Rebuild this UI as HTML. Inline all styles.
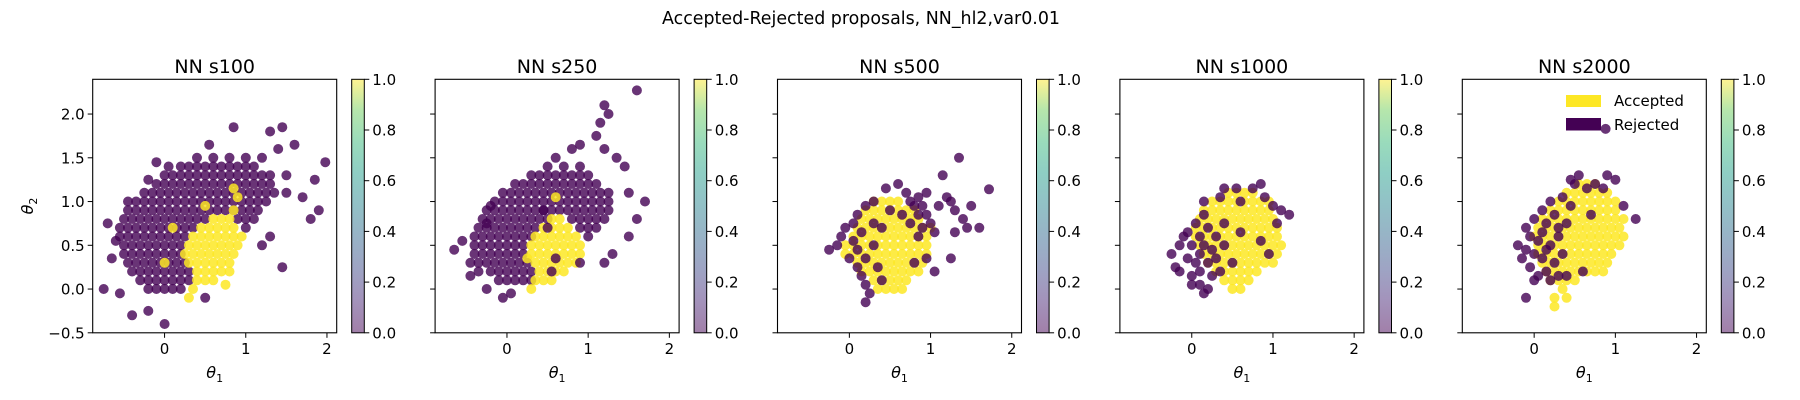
<!DOCTYPE html>
<html><head><meta charset="utf-8"><title>Accepted-Rejected proposals</title>
<style>
html,body{margin:0;padding:0;background:#fff;}
svg{display:block;font-family:"DejaVu Sans","Liberation Sans",sans-serif;}
</style></head>
<body>
<svg id="fig" width="1800" height="400" viewBox="0 0 1800 400" xmlns="http://www.w3.org/2000/svg">
<defs>
<linearGradient id="viridis" x1="0" y1="1" x2="0" y2="0">
<stop offset="0" stop-color="#440154"/><stop offset="0.13" stop-color="#482878"/><stop offset="0.25" stop-color="#3e4989"/><stop offset="0.38" stop-color="#31688e"/><stop offset="0.5" stop-color="#26828e"/><stop offset="0.63" stop-color="#1f9e89"/><stop offset="0.75" stop-color="#35b779"/><stop offset="0.88" stop-color="#6ece58"/><stop offset="1" stop-color="#fde725"/>
</linearGradient>
</defs>
<text x="861" y="24" font-size="18" text-anchor="middle" textLength="398" lengthAdjust="spacingAndGlyphs">Accepted-Rejected proposals, NN_hl2,var0.01</text>
<g id="panels"></g>
</svg>
<script>
// ---- data ----
const panelTitles = ["NN s100","NN s250","NN s500","NN s1000","NN s2000"];
const xTicks = [0,1,2];
const yTicks = [-0.5,0,0.5,1.0,1.5,2.0];
const yTickLabels = ["\u22120.5","0.0","0.5","1.0","1.5","2.0"];
const cbTicks = [0,0.2,0.4,0.6,0.8,1.0];
const cbTickLabels = ["0.0","0.2","0.4","0.6","0.8","1.0"];

// rows: [y, [x...]]
const p1RejRows = [
[1.5,[0.4,0.6,0.8,1.0,1.2]],
[1.4,[0.2,0.3,0.4,0.5,0.6,0.7,0.8,0.9,1.0,1.1]],
[1.3,[0.0,0.1,0.2,0.3,0.4,0.5,0.6,0.7,0.8,0.9,1.0,1.1,1.2,1.3]],
[1.2,[-0.1,0,0.1,0.2,0.3,0.4,0.5,0.6,0.7,0.8,0.9,1.0,1.1,1.2,1.3]],
[1.1,[-0.25,-0.15,-0.05,0.05,0.15,0.25,0.35,0.45,0.55,0.65,0.75,0.85,0.95,1.05,1.15,1.25,1.35]],
[1.0,[-0.35,-0.25,-0.15,-0.05,0.05,0.15,0.25,0.35,0.45,0.55,0.65,0.75,0.85,0.95,1.05,1.15,1.25]],
[0.9,[-0.45,-0.35,-0.25,-0.15,-0.05,0.05,0.15,0.25,0.35,0.45,0.55,0.65,0.75,0.85,0.95,1.05,1.15]],
[0.8,[-0.5,-0.4,-0.3,-0.2,-0.1,0,0.1,0.2,0.3,0.4,0.5,0.9,1.0,1.1]],
[0.7,[-0.55,-0.45,-0.35,-0.25,-0.15,-0.05,0.05,0.15,0.25,0.35,1.0]],
[0.6,[-0.55,-0.45,-0.35,-0.25,-0.15,-0.05,0.05,0.15,0.25]],
[0.5,[-0.5,-0.4,-0.3,-0.2,-0.1,0,0.1,0.2]],
[0.4,[-0.5,-0.4,-0.3,-0.2,-0.1,0,0.1,0.2]],
[0.3,[-0.45,-0.35,-0.25,-0.15,-0.05,0.05,0.15,0.25]],
[0.2,[-0.4,-0.3,-0.2,-0.1,0,0.1,0.2,0.3]],
[0.1,[-0.3,-0.2,-0.1,0,0.1,0.2,0.3]],
[0.0,[-0.2,-0.1,0,0.1,0.2]]
];
const p1RejPts = [[-0.75,0.0],[-0.7,0.75],[-0.65,0.35],[-0.6,0.55],[-0.55,-0.05],[-0.4,-0.3],[-0.2,-0.25],[0,-0.4],[0.5,-0.1],[1.45,0.25],[1.8,0.8],[1.9,0.9],[1.98,1.45],[1.85,1.25],[1.7,1.05],[1.5,1.1],[1.45,1.85],[1.3,1.8],[0.85,1.85],[1.6,1.65],[1.4,1.6],[1.5,1.3],[1.2,0.5],[1.3,0.6],[-0.1,1.45],[0.05,1.4],[0.55,1.65],[-0.45,1.0],[-0.2,1.25]];
const p1AccRows = [
[0.9,[0.85]],
[0.8,[0.6,0.7,0.8]],
[0.7,[0.45,0.55,0.65,0.75,0.85]],
[0.6,[0.35,0.45,0.55,0.65,0.75,0.85,0.95]],
[0.5,[0.3,0.4,0.5,0.6,0.7,0.8,0.9]],
[0.4,[0.25,0.35,0.45,0.55,0.65,0.75,0.85]],
[0.3,[0.3,0.4,0.5,0.6,0.7,0.8]],
[0.2,[0.4,0.5,0.6,0.7,0.8]],
[0.1,[0.4,0.5,0.6]]
];
const p1AccPts = [[0.35,0.0],[0.3,-0.1],[0.75,0.05],[0.9,1.05],[0.85,1.15],[0.5,0.95],[0.1,0.7],[0,0.3]];

const p2RejRows = [
[1.4,[0.5,0.7,0.9]],
[1.3,[0.3,0.4,0.5,0.6,0.7,0.8,0.9,1.0]],
[1.2,[0.1,0.2,0.3,0.4,0.5,0.6,0.7,0.8,0.9,1.0,1.1]],
[1.1,[-0.05,0.05,0.15,0.25,0.35,0.45,0.55,0.65,0.75,0.85,0.95,1.05,1.15,1.25]],
[1.0,[-0.15,-0.05,0.05,0.15,0.25,0.35,0.45,0.55,0.65,0.75,0.85,0.95,1.05,1.15,1.25]],
[0.9,[-0.25,-0.15,-0.05,0.05,0.15,0.25,0.35,0.45,0.55,0.65,0.75,0.85,0.95,1.05,1.15,1.25]],
[0.8,[-0.3,-0.2,-0.1,0,0.1,0.2,0.3,0.4,0.5,0.8,0.9,1.0,1.1,1.2]],
[0.7,[-0.35,-0.25,-0.15,-0.05,0.05,0.15,0.25,0.35,0.9,1.0,1.1]],
[0.6,[-0.4,-0.3,-0.2,-0.1,0,0.1,0.2,0.3,1.0]],
[0.5,[-0.4,-0.3,-0.2,-0.1,0,0.1,0.2]],
[0.4,[-0.4,-0.3,-0.2,-0.1,0,0.1,0.2]],
[0.3,[-0.35,-0.25,-0.15,-0.05,0.05,0.15,0.25]],
[0.2,[-0.2,-0.1,0,0.1,0.2,0.3]],
[0.1,[-0.1,0,0.1,0.2,0.3]]
];
const p2RejPts = [[-0.65,0.45],[-0.55,0.55],[-0.45,0.3],[-0.45,0.15],[-0.35,0.2],[-0.25,0.0],[-0.05,-0.1],[0.05,-0.05],[-0.2,0.95],[-0.25,0.75],[1.2,0.3],[1.3,0.4],[1.5,0.6],[1.6,0.8],[1.7,1.0],[1.5,1.1],[1.45,1.4],[1.35,1.5],[1.2,1.6],[1.1,1.75],[1.15,1.9],[1.25,2.0],[1.2,2.1],[1.6,2.27],[0.8,1.6],[0.9,1.65],[0.6,1.5]];
const p2AccRows = [
[0.8,[0.55,0.65]],
[0.7,[0.45,0.55,0.65,0.75]],
[0.6,[0.35,0.45,0.55,0.65,0.75,0.85]],
[0.5,[0.3,0.4,0.5,0.6,0.7,0.8,0.9]],
[0.4,[0.3,0.4,0.5,0.6,0.7,0.8,0.9]],
[0.3,[0.35,0.45,0.55,0.65,0.75,0.85]],
[0.2,[0.4,0.5,0.6,0.7]],
[0.1,[0.35,0.45,0.55]],
[0.0,[0.3]]
];
const p2AccPts = [[0.6,1.05],[0.25,0.35]];
const p2RejTopPts = [[0.55,0.2],[0.6,0.35],[0.9,0.3],[0.45,0.9],[0.5,0.7]];

const p3AccRows = [
[1.0,[0.3,0.4,0.5,0.6]],
[0.9,[0.2,0.3,0.4,0.5,0.6,0.7,0.8]],
[0.8,[0.15,0.25,0.35,0.45,0.55,0.65,0.75,0.85]],
[0.7,[0.1,0.2,0.3,0.4,0.5,0.6,0.7,0.8,0.9,1.0]],
[0.6,[0.05,0.15,0.25,0.35,0.45,0.55,0.65,0.75,0.85,0.95]],
[0.5,[-0.05,0.05,0.15,0.25,0.35,0.45,0.55,0.65,0.75,0.85,0.95]],
[0.4,[-0.05,0.05,0.15,0.25,0.35,0.45,0.55,0.65,0.75,0.85,0.95]],
[0.3,[0.1,0.2,0.3,0.4,0.5,0.6,0.7,0.8,0.9]],
[0.2,[0.15,0.25,0.35,0.45,0.55,0.65,0.75,0.85]],
[0.1,[0.3,0.4,0.5,0.6,0.7]],
[0.0,[0.35,0.45,0.55,0.65]]
];
const p3AccPts = [];
const p3RejPts = [[-0.25,0.45],[-0.15,0.5],[-0.1,0.6],[-0.05,0.7],[0,0.35],[0.05,0.55],[0.05,0.75],[0.1,0.45],[0.1,0.25],[0.15,0.65],[0.15,0.15],[0.2,0.35],[0.2,0.05],[0.25,-0.05],[0.2,-0.15],[0.3,0.5],[0.35,0.25],[0.1,0.85],[0.2,0.95],[0.3,1.0],[0.45,1.15],[0.6,1.2],[0.7,1.1],[0.75,1.0],[0.85,1.05],[0.9,0.95],[0.95,0.85],[1.0,0.75],[0.85,0.85],[1.05,0.65],[0.8,0.95],[0.95,1.1],[1.1,0.95],[1.2,1.05],[1.25,1.0],[1.3,0.9],[1.4,0.8],[1.5,0.95],[1.35,1.5],[1.15,1.3],[1.72,1.14],[1.6,0.7],[1.45,0.7],[1.3,0.65],[1.25,0.35],[1.05,0.2],[0.95,0.35],[0.8,0.3],[0.75,0.75],[0.65,0.85],[0.5,0.9],[0.4,0.7],[0.3,0.75],[0.4,0.1],[0.85,0.6],[0.9,0.7]];

const p4AccRows = [
[1.1,[0.45,0.55,0.65,0.75]],
[1.0,[0.25,0.35,0.45,0.55,0.65,0.75,0.85,0.95]],
[0.9,[0.15,0.25,0.35,0.45,0.55,0.65,0.75,0.85,0.95]],
[0.8,[0.1,0.2,0.3,0.4,0.5,0.6,0.7,0.8,0.9,1.0]],
[0.7,[0.05,0.15,0.25,0.35,0.45,0.55,0.65,0.75,0.85,0.95,1.05]],
[0.6,[0.05,0.15,0.25,0.35,0.45,0.55,0.65,0.75,0.85,0.95,1.05]],
[0.5,[0.1,0.2,0.3,0.4,0.5,0.6,0.7,0.8,0.9,1.0,1.1]],
[0.4,[0.15,0.25,0.35,0.45,0.55,0.65,0.75,0.85,0.95,1.05]],
[0.3,[0.2,0.3,0.4,0.5,0.6,0.7,0.8,0.9,1.0]],
[0.2,[0.3,0.4,0.5,0.6,0.7,0.8]],
[0.1,[0.4,0.5,0.6,0.7]],
[0.0,[0.5,0.6]]
];
const p4AccPts = [];
const p4RejPts = [[-0.25,0.4],[-0.2,0.25],[-0.15,0.2],[-0.15,0.5],[-0.05,0.65],[-0.05,0.35],[0,0.15],[0,0.5],[0.05,0.75],[0.05,0.3],[0.1,0.6],[0.1,0.4],[0.1,0.2],[0.15,0.85],[0.15,0.5],[0.2,0.3],[0.2,0.7],[0.25,0.45],[0.25,0.15],[0.3,0.6],[0.3,0.35],[0.35,0.2],[0.4,0.5],[0.4,0.75],[0.15,1.0],[0.35,1.05],[0.4,1.15],[0.55,1.15],[0.6,1.0],[0.75,1.15],[0.85,1.2],[0.9,1.05],[1.0,0.95],[1.1,0.9],[1.05,0.75],[1.2,0.85],[0.1,0.05],[0.2,0.0],[0.15,-0.05],[0.5,0.3],[0.6,0.65],[0.85,0.55],[0.95,0.4],[0.0,0.05],[-0.1,0.6]];

const p5AccRows = [
[1.2,[0.55,0.65,0.75]],
[1.1,[0.4,0.5,0.6,0.7,0.8,0.9]],
[1.0,[0.3,0.4,0.5,0.6,0.7,0.8,0.9,1.0]],
[0.9,[0.2,0.3,0.4,0.5,0.6,0.7,0.8,0.9,1.0]],
[0.8,[0.1,0.2,0.3,0.4,0.5,0.6,0.7,0.8,0.9,1.0,1.1]],
[0.7,[0.05,0.15,0.25,0.35,0.45,0.55,0.65,0.75,0.85,0.95,1.05]],
[0.6,[0.0,0.1,0.2,0.3,0.4,0.5,0.6,0.7,0.8,0.9,1.0,1.1]],
[0.5,[0.05,0.15,0.25,0.35,0.45,0.55,0.65,0.75,0.85,0.95,1.05]],
[0.4,[0.05,0.15,0.25,0.35,0.45,0.55,0.65,0.75,0.85,0.95]],
[0.3,[0.1,0.2,0.3,0.4,0.5,0.6,0.7,0.8,0.9]],
[0.2,[0.15,0.25,0.35,0.45,0.55,0.65,0.75,0.85]],
[0.1,[0.2,0.3,0.4,0.5]],
[0.0,[0.35]],
[-0.1,[0.25,0.4]],
[-0.2,[0.25]]
];
const p5AccPts = [];
const p5RejPts = [[-0.2,0.5],[-0.15,0.35],[-0.1,0.7],[-0.1,0.45],[-0.05,0.25],[-0.05,0.6],[0,0.8],[0,0.4],[0.05,0.55],[0.05,0.15],[0.1,0.9],[0.1,0.65],[0.1,0.35],[0.15,0.75],[0.15,0.2],[0.2,1.0],[0.2,0.5],[0.25,0.3],[0.25,0.85],[0.3,0.6],[0.3,0.15],[0.35,1.05],[0.35,0.4],[0.4,0.75],[0.4,0.15],[0.45,0.95],[0.5,1.2],[0.55,1.3],[0.45,1.25],[0.65,1.15],[0.75,1.2],[0.85,1.15],[0.9,1.3],[1.0,1.25],[1.1,0.95],[1.25,0.8],[-0.1,-0.1],[0.0,0.1],[0.2,0.1],[0.88,1.83],[0.6,0.2],[0.7,0.85],[0.3,0.7],[0.15,0.45]];

// ---- layout ----
const NS = "http://www.w3.org/2000/svg";
const AX_W = 244, AX_TOP = 79.3, AX_BOT = 332.8, PANEL_STEP = 342.4, FIRST_LEFT = 92.7;
const X_MIN = -0.885, X_MAX = 2.12, Y_MIN = -0.5, Y_MAX = 2.397;
const ACC = "#fde725", REJ = "#440154";
const root = document.getElementById("panels");

function mk(tag, attrs, parent){
  const el = document.createElementNS(NS, tag);
  for (const k in attrs) el.setAttribute(k, attrs[k]);
  (parent||root).appendChild(el);
  return el;
}
function expand(rows, pts){
  const out = [];
  rows.forEach(r => r[1].forEach(x => out.push([x, r[0]])));
  pts.forEach(p => out.push(p));
  return out;
}

const panelLayers = [
  [[expand(p1RejRows,p1RejPts),REJ],[expand(p1AccRows,p1AccPts),ACC]],
  [[expand(p2RejRows,p2RejPts),REJ],[expand(p2AccRows,p2AccPts),ACC],[p2RejTopPts,REJ]],
  [[expand(p3AccRows,p3AccPts),ACC],[p3RejPts,REJ]],
  [[expand(p4AccRows,p4AccPts),ACC],[p4RejPts,REJ]],
  [[expand(p5AccRows,p5AccPts),ACC],[p5RejPts,REJ]]
];

panelTitles.forEach((title, i) => {
  const left = FIRST_LEFT + i*PANEL_STEP;
  const sx = v => left + (v - X_MIN)/(X_MAX - X_MIN)*AX_W;
  const sy = v => AX_BOT - (v - Y_MIN)/(Y_MAX - Y_MIN)*(AX_BOT - AX_TOP);
  const g = mk("g", {});
  
  

  const clipId = "clip"+i;
  const cp = mk("clipPath", {id: clipId}, g);
  mk("rect", {x:left, y:AX_TOP, width:AX_W, height:AX_BOT-AX_TOP}, cp);

  const pts = mk("g", {"clip-path":"url(#"+clipId+")"}, g);
  
  
  panelLayers[i].forEach(layer => {
    const color = layer[1];
    layer[0].forEach(p => {
      const c = mk("circle", {cx: sx(p[0]).toFixed(1), cy: sy(p[1]).toFixed(1), r: 5.0, fill: color, "fill-opacity": color===REJ?0.8:0.85}, pts);
      
      
    });
  });

  const frame = mk("rect", {x:left, y:AX_TOP, width:AX_W, height:AX_BOT-AX_TOP, fill:"none", stroke:"#000", "stroke-width":1.1}, g);
  
  

  const t = mk("text", {x:left+AX_W/2, y:73, "font-size":19, "text-anchor":"middle"}, g);
  t.textContent = title;
  
  

  xTicks.forEach(v => {
    const x = sx(v);
    mk("line", {x1:x, x2:x, y1:AX_BOT, y2:AX_BOT+5, stroke:"#000", "stroke-width":1}, g);
    const tl = mk("text", {x:x, y:AX_BOT+21, "font-size":15, "text-anchor":"middle"}, g);
    tl.textContent = String(v);
    
    
  });
  yTicks.forEach((v, k) => {
    const y = sy(v);
    mk("line", {x1:left-5, x2:left, y1:y, y2:y, stroke:"#000", "stroke-width":1}, g);
    if (i === 0) {
      const tl = mk("text", {x:left-8, y:y+5.5, "font-size":15, "text-anchor":"end"}, g);
      tl.textContent = yTickLabels[k];
      
      
    }
  });

  const xl = mk("text", {x:left+AX_W/2, y:378, "font-size":16, "text-anchor":"middle", "font-style":"italic"}, g);
  xl.innerHTML = 'θ<tspan font-size="11" dy="4" font-style="normal">1</tspan>';
  
  

  // colorbar
  const cbx = left + 259, cbw = 12.6;
  const cb = mk("rect", {x:cbx, y:AX_TOP, width:cbw, height:AX_BOT-AX_TOP, fill:"url(#viridis)", "fill-opacity":0.5}, g);
  
  
  mk("rect", {x:cbx, y:AX_TOP, width:cbw, height:AX_BOT-AX_TOP, fill:"none", stroke:"#000", "stroke-width":1}, g);
  cbTicks.forEach((v, k) => {
    const y = AX_BOT - v*(AX_BOT-AX_TOP);
    mk("line", {x1:cbx+cbw, x2:cbx+cbw+5, y1:y, y2:y, stroke:"#000", "stroke-width":1}, g);
    const tl = mk("text", {x:cbx+cbw+8, y:y+5.5, "font-size":15}, g);
    tl.textContent = cbTickLabels[k];
    
    
  });

  if (i === 0) {
    const yl = mk("text", {x:0, y:0, "font-size":16, "text-anchor":"middle", "font-style":"italic", transform:"translate(33,206) rotate(-90)"}, g);
    yl.innerHTML = 'θ<tspan font-size="11" dy="4" font-style="normal">2</tspan>';
    
    
  }
  if (i === 4) {
    const lg = mk("g", {}, g);
    
    
    const e1 = mk("g", {}, lg);
    
    
    mk("rect", {x:1566, y:95, width:35, height:12, fill:ACC}, e1);
    const a = mk("text", {x:1614, y:106, "font-size":15}, e1);
    a.textContent = "Accepted";
    const e2 = mk("g", {}, lg);
    
    
    mk("rect", {x:1566, y:118, width:35, height:12.5, fill:REJ}, e2);
    const r = mk("text", {x:1614, y:130, "font-size":15}, e2);
    r.textContent = "Rejected";
  }
});
</script>
</body></html>
